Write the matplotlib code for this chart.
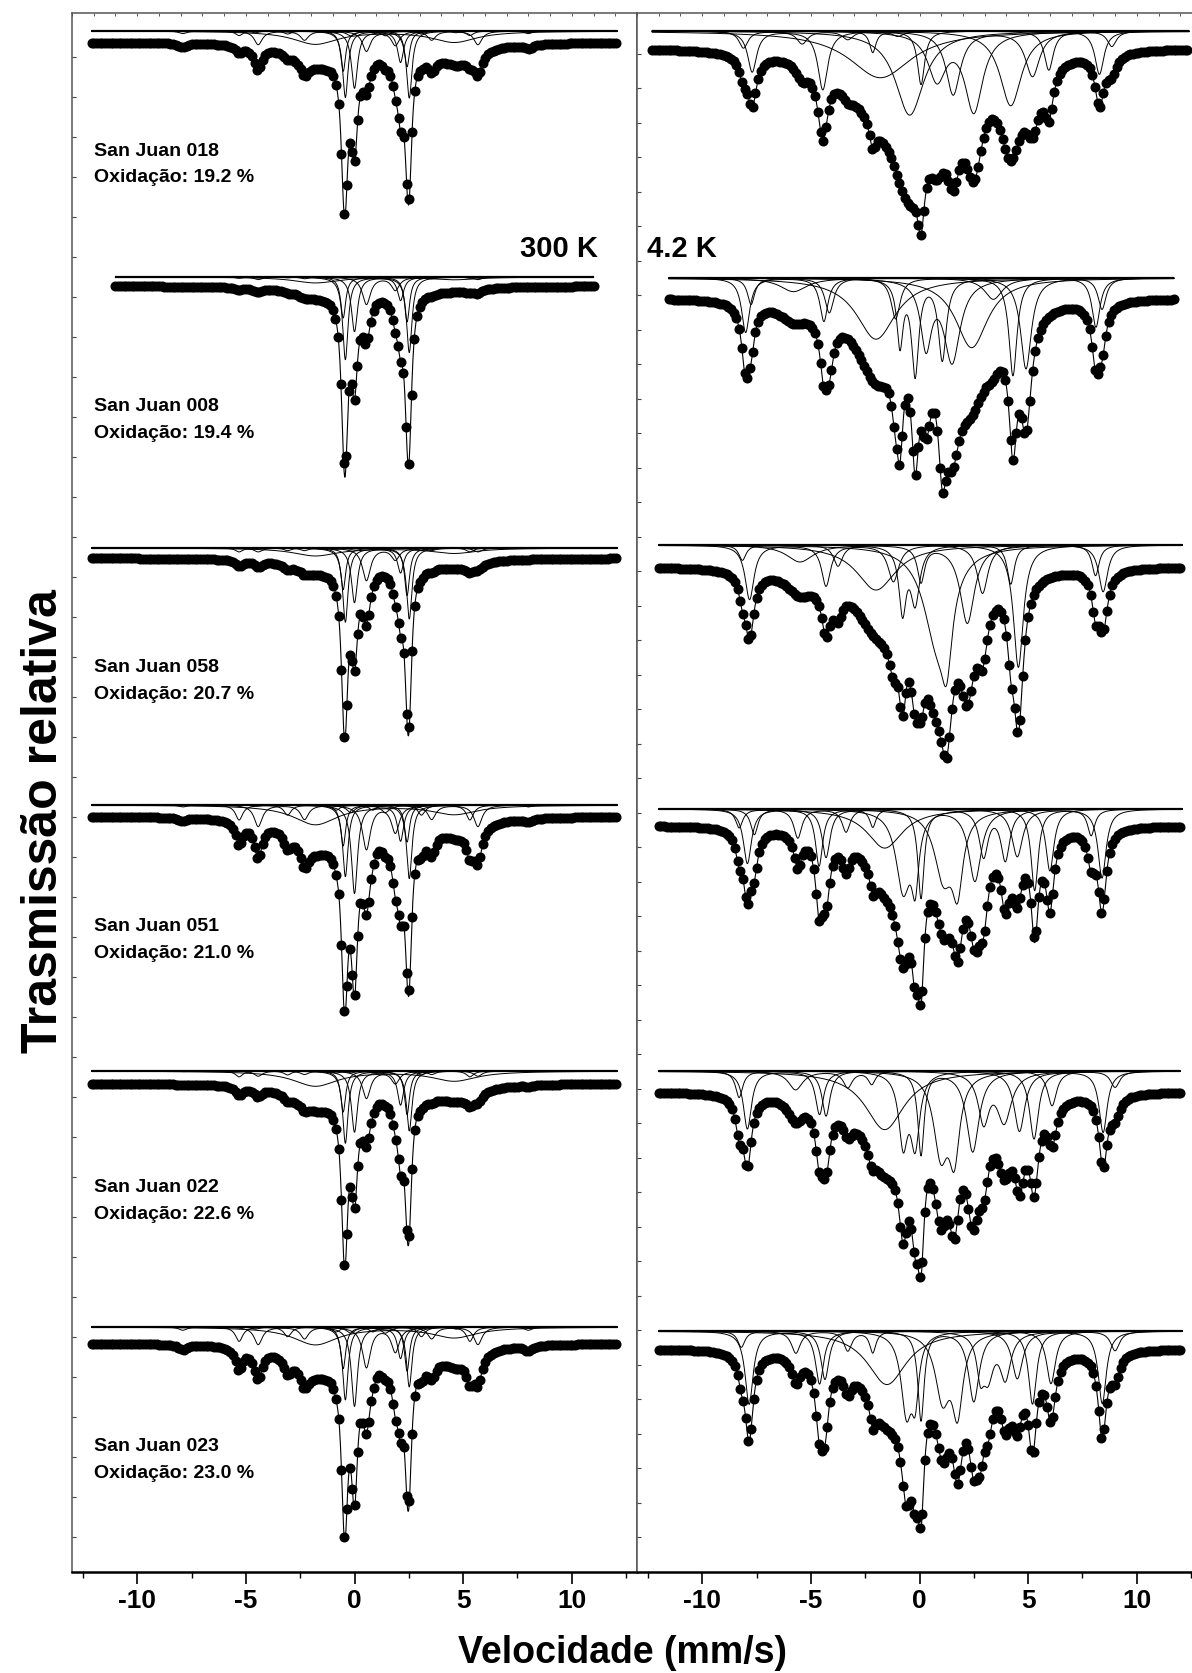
import numpy as np
import matplotlib.pyplot as plt
from matplotlib.ticker import MultipleLocator, NullFormatter

plt.rcParams['font.family'] = ['Liberation Sans', 'DejaVu Sans']
plt.rcParams['font.weight'] = 'bold'
plt.rcParams['axes.unicode_minus'] = False

# Samples, top to bottom
samples = ['San Juan 018', 'San Juan 008', 'San Juan 058',
           'San Juan 051', 'San Juan 022', 'San Juan 023']
oxidation = [19.2, 19.4, 20.7, 21.0, 22.6, 23.0]

# Velocity span of each measurement (mm/s)
span_300k = [(-12.1, 12.1), (-11.0, 11.0), (-12.1, 12.1),
             (-12.1, 12.1), (-12.1, 12.1), (-12.1, 12.1)]
span_4k = [(-12.3, 12.4), (-11.55, 11.7), (-12.0, 12.1),
           (-12.0, 12.1), (-12.0, 12.0), (-12.0, 12.1)]
channel_step = 0.125

# 300 K sites: line positions (mm/s) and width (mm/s)
troilite = [-4.43, -2.30, -0.17, 1.42, 3.55, 5.68]
kamacite = [-5.31, -3.08, -0.84, 0.84, 3.08, 5.31]
fe3_sextet = [-7.90, -4.57, -1.24, 1.34, 4.67, 8.00]
sextet_ratio = [1, 2 / 3, 1 / 3, 1 / 3, 2 / 3, 1]
sites_300k = [
    ([-0.42, 2.52], 0.30),   # Fe2+ olivine
    ([-0.52, 2.42], 0.28),   # Fe2+ olivine (second)
    ([0.00, 2.12], 0.34),    # Fe2+ pyroxene
    ([0.55, 1.88], 0.45),    # Fe2+ pyroxene M1
    (troilite, 0.45),
    (kamacite, 0.40),
    (fe3_sextet, 0.45),
    ([-1.80, 4.60], 2.50),   # broad background
]
# absorption depth of each line (one value = sextet outer line)
depth_300k = [
    [[102, 103], [62, 55], [88, 48], [31, 22], [21], [7], [4], [20, 17]],
    [[127, 116], [63, 69], [84, 36], [42, 20], [4], [2], [0], [9, 4]],
    [[114, 109], [64, 73], [84, 38], [50, 18], [6], [6], [0], [12, 8]],
    [[110, 113], [63, 57], [136, 55], [68, 42], [33], [23], [3], [30, 14]],
    [[111, 92], [63, 67], [94, 52], [42, 19], [8], [9], [1], [23, 15]],
    [[112, 92], [64, 68], [122, 48], [62, 38], [27], [22], [5], [27, 16]],
]

# 4.2 K sites: (position, width, depth) of each line
sites_4k = [
    [[(-7.70, .50, 48), (-4.45, .55, 69), (-1.00, .60, 6), (8.28, .50, 51)],
     [(-8.10, .50, 20), (-5.40, .60, 15), (-3.30, .60, 10), (5.95, .50, 46), (8.85, .50, 18)],
     [(-2.15, .35, 25), (0.07, .40, 63)],
     [(-0.45, 1.60, 99)],
     [(0.80, 1.00, 55), (2.50, 1.00, 93)],
     [(1.55, .80, 75), (5.20, .80, 53)],
     [(4.20, 1.20, 88)],
     [(-1.80, 3.50, 55)]],
    [[(-8.00, .45, 64), (-4.40, .45, 51), (8.12, .45, 58)],
     [(-7.75, .40, 31), (-4.15, .50, 41), (8.40, .45, 37)],
     [(-0.90, .35, 76), (-0.20, .40, 111), (1.05, .45, 95)],
     [(-1.10, .50, 48), (4.30, .45, 115)],
     [(-2.00, 2.20, 72)],
     [(0.30, .60, 77), (1.50, .90, 97)],
     [(2.40, 1.80, 82)],
     [(4.90, .60, 107)],
     [(-5.80, 1.50, 16), (3.40, 1.00, 25)]],
    [[(-7.82, .50, 64), (-4.30, .50, 48), (-1.20, .60, 43), (8.45, .50, 55)],
     [(-8.15, .40, 18), (-3.75, .50, 25), (4.20, .40, 46), (8.10, .40, 36)],
     [(-0.78, .40, 76), (-0.20, .50, 66)],
     [(0.80, 1.50, 108), (1.25, .60, 85)],
     [(0.07, .40, 42), (2.20, .80, 92)],
     [(2.90, .60, 57)],
     [(4.55, .55, 144)],
     [(-2.00, 2.20, 53)],
     [(-5.50, 1.50, 20)]],
    [[(-7.92, .45, 64), (-4.62, .40, 67), (4.50, .60, 56), (8.40, .45, 81)],
     [(-8.30, .40, 22), (-5.60, .45, 34), (-3.38, .45, 27), (5.30, .40, 96), (7.90, .40, 31)],
     [(-7.60, .40, 30), (-4.30, .45, 57), (-2.15, .35, 21), (6.00, .45, 73)],
     [(-0.75, .80, 94), (-0.20, .40, 75)],
     [(0.07, .35, 104), (2.55, .70, 85)],
     [(1.10, 1.00, 78), (1.75, .60, 82)],
     [(2.95, .50, 55), (3.95, .50, 59)],
     [(-1.60, 2.00, 46)]],
    [[(-7.92, .45, 68), (-4.60, .45, 51), (4.60, .60, 71), (8.45, .45, 72)],
     [(-8.30, .40, 31), (-4.30, .45, 53), (5.27, .50, 80), (9.00, .50, 19)],
     [(-5.70, .80, 22), (-3.30, .50, 19), (-2.20, .40, 15), (6.10, .50, 41)],
     [(-0.75, .50, 82), (-0.20, .50, 83)],
     [(0.07, .35, 98), (2.45, .70, 95)],
     [(0.98, .80, 93), (1.60, .60, 91)],
     [(2.95, .60, 57), (3.90, .80, 58)],
     [(-1.60, 2.20, 69)]],
    [[(-7.84, .45, 86), (-4.60, .45, 62), (4.50, .60, 56), (8.41, .45, 85)],
     [(-8.20, .40, 19), (-4.35, .45, 57), (5.20, .45, 86), (9.00, .50, 23)],
     [(-5.69, .50, 26), (-3.30, .45, 23), (-2.15, .35, 25), (6.05, .50, 62)],
     [(-0.60, .60, 93), (-0.20, .40, 67)],
     [(0.07, .35, 105), (2.50, .60, 83)],
     [(1.06, .80, 76), (1.75, .60, 89)],
     [(2.80, .40, 42), (3.15, .60, 49), (3.95, .60, 53)],
     [(-1.50, 2.20, 63)]],
]

# vertical placement of each spectrum (axis units, top = 14)
fit_base_300k = [32, 278, 549, 806, 1072, 1328]
data_base_300k = [43, 287, 559, 817, 1084, 1344]
fit_base_4k = [32, 279, 546, 810, 1072, 1332]
data_base_4k = [48, 298, 567, 826, 1092, 1349]
label_y = [151, 407, 668, 927, 1188, 1447]
sub_gain_300k = 0.65
sub_gain_4k = 0.85


def lorentz(v, c, w):
    h = w / 2.0
    return h * h / ((v - c) ** 2 + h * h)


def site_300k(v, site, amps):
    centers, width = site
    if len(amps) == 1:
        amps = [amps[0] * r for r in sextet_ratio]
    return sum(a * lorentz(v, c, width) for c, a in zip(centers, amps))


def site_4k(v, lines):
    return sum(a * lorentz(v, c, w) for c, w, a in lines)


def draw_spectrum(ax, span, subspectra, fit_base, data_base, gain):
    lo, hi = span
    vf = np.linspace(lo, hi, 2000)
    vc = np.arange(lo, hi + 1e-6, channel_step)
    total_f = np.zeros_like(vf)
    total_c = np.zeros_like(vc)
    for f in subspectra:
        yf = f(vf)
        total_f += yf
        total_c += f(vc)
        ax.plot(vf, fit_base + gain * yf, color='black', lw=0.7)
    ax.hlines(fit_base, lo, hi, color='black', lw=1.6)
    ax.plot(vf, data_base + total_f, color='black', lw=0.8)
    ax.plot(vc, data_base + total_c, 'o', color='black', ms=6.2, mec='black')


W, H = 1192, 1674
fig = plt.figure(figsize=(W / 100, H / 100), dpi=100)
ax_l = fig.add_axes([72 / W, 101 / H, 565 / W, 1559 / H])
ax_r = fig.add_axes([637 / W, 101 / H, 565 / W, 1559 / H])

for i in range(6):
    subs = [lambda v, s=s, a=a: site_300k(v, s, a)
            for s, a in zip(sites_300k, depth_300k[i])]
    draw_spectrum(ax_l, span_300k[i], subs, fit_base_300k[i],
                  data_base_300k[i], sub_gain_300k)
    ax_l.text(-12.0, label_y[i], samples[i], fontsize=14, va='center')
    ax_l.text(-12.0, label_y[i] + 27, f'Oxidação: {oxidation[i]:.1f} %',
              fontsize=14, va='center')

    subs = [lambda v, ln=ln: site_4k(v, ln) for ln in sites_4k[i]]
    draw_spectrum(ax_r, span_4k[i], subs, fit_base_4k[i],
                  data_base_4k[i], sub_gain_4k)

ax_l.text(11.2, 249, '300 K', fontsize=21, ha='right', va='center')
ax_r.text(-12.55, 249, '4.2 K', fontsize=21, ha='left', va='center')

for ax, step in ((ax_l, 40), (ax_r, 34.5)):
    ax.set_xlim(-13, 13)
    ax.set_ylim(1573, 14)
    ax.xaxis.set_major_locator(MultipleLocator(5))
    ax.xaxis.set_minor_locator(MultipleLocator(2.5))
    ax.set_yticks(np.arange(1538, 20, -step))
    ax.yaxis.set_major_formatter(NullFormatter())
    ax.tick_params(axis='x', which='major', direction='out', length=8.6,
                   width=1.2, labelsize=19, pad=3)
    ax.tick_params(axis='x', which='minor', direction='out', length=4.3,
                   width=1.0)
    ax.tick_params(axis='y', direction='in', length=3, width=0.8,
                   left=True, right=False, colors='#444444')
    for side in ('left', 'right', 'top'):
        ax.spines[side].set_color('#555555')
        ax.spines[side].set_linewidth(1.1)
    ax.spines['bottom'].set_linewidth(1.8)
    top = ax.secondary_xaxis('top')
    top.xaxis.set_major_locator(MultipleLocator(1))
    top.xaxis.set_major_formatter(NullFormatter())
    top.tick_params(direction='in', length=2.5, width=0.7, colors='#555555')
    top.spines['top'].set_visible(False)
    for lab in ax.get_xticklabels():
        lab.set_fontweight('bold')

fig.text(44 / W, 1 - 821 / H, 'Trasmissão relativa', rotation=90,
         fontsize=36, ha='center', va='center')
fig.text(622 / W, 1 - 1653 / H, 'Velocidade (mm/s)', fontsize=27,
         ha='center', va='center')

fig.savefig('out.png', dpi=100)
